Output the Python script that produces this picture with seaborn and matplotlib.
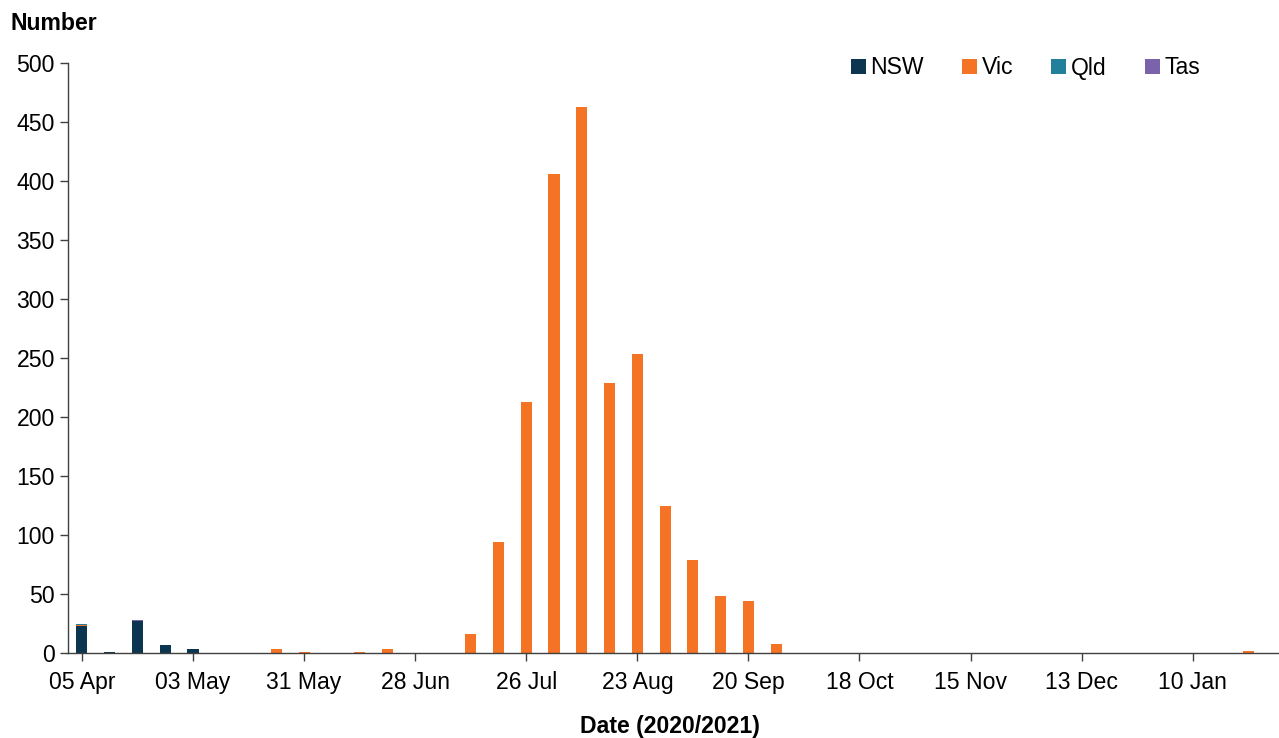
import pandas as pd
import seaborn as sns
import matplotlib.pyplot as plt
import numpy as np

# weekly counts, week starting 05 Apr 2020 .. 24 Jan 2021
week_start = pd.date_range("2020-04-05", periods=43, freq="7D")
nsw = [23, 1, 27, 7, 3, 0, 0, 0, 0, 0, 0, 0, 0, 0, 0, 0, 0, 0, 0, 0, 0, 0,
       0, 0, 0, 0, 0, 0, 0, 0, 0, 0, 0, 0, 0, 0, 0, 0, 0, 0, 0, 0, 0]
vic = [1, 0, 0, 0, 0, 0, 0, 3, 1, 0, 1, 3, 0, 0, 16, 94, 213, 406, 463, 229, 253, 125,
       79, 48, 44, 8, 0, 0, 0, 0, 0, 0, 0, 0, 0, 0, 0, 0, 0, 0, 0, 0, 2]
qld = [1] + [0] * 42
tas = [0, 0, 1] + [0] * 40

states = ["NSW", "Vic", "Qld", "Tas"]
state_colors = ["#0c3650", "#f47324", "#23809a", "#7a63aa"]
tick_labels = ["05 Apr", "03 May", "31 May", "28 Jun", "26 Jul", "23 Aug",
               "20 Sep", "18 Oct", "15 Nov", "13 Dec", "10 Jan"]

df = pd.DataFrame({"week": week_start.strftime("%Y-%m-%d"),
                   "NSW": nsw, "Vic": vic, "Qld": qld, "Tas": tas})

plt.rcParams["font.family"] = ["Liberation Sans", "DejaVu Sans"]
fs = 16.6
fig = plt.figure(figsize=(12.79, 7.38), dpi=100)
ax = fig.add_axes([68 / 1279, 1 - 653 / 738, (1278 - 68) / 1279, (653 - 63) / 738])

# stacked bars: draw cumulative totals from the top layer down
cum = df[states].cumsum(axis=1)
for state, col in reversed(list(zip(states, state_colors))):
    sns.barplot(x=df["week"], y=cum[state], color=col, width=0.4,
                linewidth=0, saturation=1, ax=ax, label=state)

ax.set_xlim(-0.5, 43.07)
ax.set_ylim(0, 500)
ax.set_yticks(np.arange(0, 501, 50))
ax.set_xticks(np.arange(0, 41, 4))
ax.set_xticklabels(tick_labels)
ax.tick_params(axis="both", labelsize=fs, length=6, color="#404040", width=1)
ax.tick_params(axis="x", pad=7)
for s in ["top", "right"]:
    ax.spines[s].set_visible(False)
for s in ["left", "bottom"]:
    ax.spines[s].set_color("#404040")
    ax.spines[s].set_linewidth(1)
ax.set_xlabel("")
ax.set_ylabel("")

fig.text(10 / 1279, 1 - 24 / 738, "Number", fontsize=fs, fontweight="bold",
         va="center", ha="left")
fig.text(670 / 1279, 1 - 727 / 738, "Date (2020/2021)", fontsize=fs,
         fontweight="bold", va="center", ha="center")

handles, labels = ax.get_legend_handles_labels()
order = [labels.index(s) for s in states]
ax.legend([handles[i] for i in order], states, loc="center left",
          bbox_to_anchor=(851 / 1279, 1 - 68 / 738), bbox_transform=fig.transFigure,
          ncol=4, frameon=False, fontsize=fs, handlelength=0.65, handleheight=0.65,
          handletextpad=0.2, columnspacing=1.65, borderpad=0, borderaxespad=0)

fig.savefig("out.png", dpi=100)
